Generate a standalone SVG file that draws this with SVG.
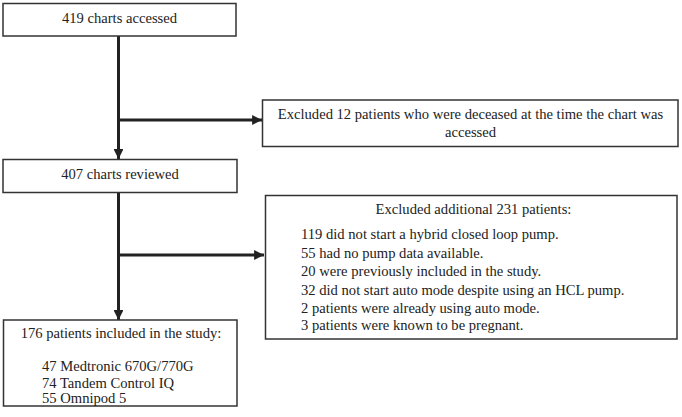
<svg xmlns="http://www.w3.org/2000/svg" width="682" height="417" viewBox="0 0 682 417">
<defs>
<style>
.box{fill:#fff;stroke:#333;stroke-width:1.5}
.t{font-family:"Liberation Serif","Times New Roman",serif;font-size:14.6px;fill:#222}
.c{text-anchor:middle}
.ln{stroke:#222;stroke-width:3;fill:none}
</style>
<marker id="ah" viewBox="0 0 10 10" refX="10" refY="5" markerWidth="3.3" markerHeight="3.3" orient="auto" markerUnits="strokeWidth">
<path d="M0,0 L10,5 L0,10 z" fill="#222"/>
</marker>
</defs>
<rect width="682" height="417" fill="#fff"/>
<g id="connectors">
<path class="ln" d="M118.5,36 V159" marker-end="url(#ah)"/>
<path class="ln" d="M118.5,120 H262" marker-end="url(#ah)"/>
<path class="ln" d="M118.5,193 V320" marker-end="url(#ah)"/>
<path class="ln" d="M118.5,255 H264" marker-end="url(#ah)"/>
</g>
<g id="n1">
<rect class="box" x="3" y="3.5" width="233" height="32.5"/>
<text class="t c" x="119.5" y="23">419 charts accessed</text>
</g>
<g id="n2">
<rect class="box" x="262.5" y="100" width="415.5" height="46.5"/>
<text class="t c" x="470.5" y="119">Excluded 12 patients who were deceased at the time the chart was</text>
<text class="t c" x="470.5" y="137">accessed</text>
</g>
<g id="n3">
<rect class="box" x="3" y="159.5" width="234" height="33"/>
<text class="t c" x="120" y="179">407 charts reviewed</text>
</g>
<g id="n4">
<rect class="box" x="265.5" y="195.5" width="411.5" height="143.5"/>
<text class="t c" x="473.5" y="214">Excluded additional 231 patients:</text>
<text class="t" x="301" y="239">119 did not start a hybrid closed loop pump.</text>
<text class="t" x="301" y="258">55 had no pump data available.</text>
<text class="t" x="301" y="276">20 were previously included in the study.</text>
<text class="t" x="301" y="295">32 did not start auto mode despite using an HCL pump.</text>
<text class="t" x="301" y="313">2 patients were already using auto mode.</text>
<text class="t" x="301" y="330">3 patients were known to be pregnant.</text>
</g>
<g id="n5">
<rect class="box" x="3.5" y="320" width="233.5" height="86"/>
<text class="t c" x="121" y="338">176 patients included in the study:</text>
<text class="t" x="42" y="371">47 Medtronic 670G/770G</text>
<text class="t" x="42" y="388">74 Tandem Control IQ</text>
<text class="t" x="42" y="403">55 Omnipod 5</text>
</g>
</svg>
